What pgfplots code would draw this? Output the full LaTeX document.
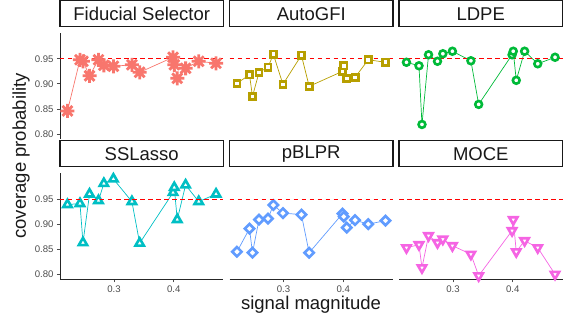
\documentclass[border=0pt]{standalone}
\usepackage{fontspec}
\setmainfont{Liberation Sans}
\usepackage{pgfplots}
\usepackage{pgfplotstable}
\pgfplotsset{compat=1.18}
\definecolor{cfid}{HTML}{F8766D}
\definecolor{cauto}{HTML}{B79F00}
\definecolor{cldpe}{HTML}{00BA38}
\definecolor{cssl}{HTML}{00BFC4}
\definecolor{cpb}{HTML}{619CFF}
\definecolor{cmoce}{HTML}{F564E3}
\definecolor{cref}{HTML}{FF0000}
\definecolor{ctick}{HTML}{4D4D4D}
\pgfdeclareplotmark{ast8}{%
  \pgfpathmoveto{\pgfqpoint{-\pgfplotmarksize}{0pt}}\pgfpathlineto{\pgfqpoint{\pgfplotmarksize}{0pt}}%
  \pgfpathmoveto{\pgfqpoint{0pt}{-\pgfplotmarksize}}\pgfpathlineto{\pgfqpoint{0pt}{\pgfplotmarksize}}%
  \pgfpathmoveto{\pgfqpoint{-0.7071\pgfplotmarksize}{-0.7071\pgfplotmarksize}}\pgfpathlineto{\pgfqpoint{0.7071\pgfplotmarksize}{0.7071\pgfplotmarksize}}%
  \pgfpathmoveto{\pgfqpoint{-0.7071\pgfplotmarksize}{0.7071\pgfplotmarksize}}\pgfpathlineto{\pgfqpoint{0.7071\pgfplotmarksize}{-0.7071\pgfplotmarksize}}%
  \pgfusepathqstroke}

\pgfplotstableread{
x     fid   auto  ldpe  ssl   pb    moce
0.222 0.846 0.901 0.943 0.939 0.845 0.853
0.243 0.948 0.918 0.936 0.941 0.891 0.859
0.248 0.945 0.875 0.819 0.863 0.843 0.813
0.259 0.916 0.923 0.958 0.960 0.909 0.877
0.274 0.948 0.933 0.945 0.947 0.911 0.863
0.283 0.937 0.959 0.960 0.981 0.938 0.870
0.299 0.935 0.899 0.965 0.990 0.922 0.857
0.330 0.938 0.957 0.946 0.945 0.919 0.840
0.343 0.923 0.895 0.859 0.862 0.843 0.797
0.399 0.953 0.925 0.958 0.963 0.921 0.887
0.401 0.938 0.936 0.965 0.973 0.915 0.909
0.406 0.911 0.911 0.907 0.909 0.893 0.845
0.420 0.931 0.913 0.965 0.978 0.908 0.867
0.442 0.945 0.948 0.940 0.945 0.900 0.853
0.471 0.941 0.943 0.953 0.960 0.907 0.800
}\datatable

\pgfplotstableread{
x      y
0.2095 0.95
0.4835 0.95
}\reftable

\pgfplotsset{
  panel/.style={
    scale only axis, width=163.5pt, height=105.8pt,
    anchor=south west,
    xmin=0.2095, xmax=0.4835, ymin=0.790, ymax=1.001,
    clip=false,
    axis line style={line width=0.8pt, black!85},
    tick align=outside, major tick length=3pt,
    tick style={line width=0.8pt, black!70},
    title style={at={(0.5,1)}, anchor=south, draw=black!90, line width=1.1pt,
      fill=white, minimum width=163.5pt, minimum height=26pt, inner sep=0pt,
      font=\fontsize{18.5}{20}\selectfont, text=black!90},
    ticklabel style={font=\fontsize{9.6}{11}\selectfont\color{ctick}},
    /pgf/number format/assume math mode=true,
  },
  leftcol/.style={axis y line*=left, ytick={0.80,0.85,0.90,0.95},
    yticklabel style={/pgf/number format/fixed, /pgf/number format/fixed zerofill, /pgf/number format/precision=2}},
  notleft/.style={axis y line=none, ytick=\empty},
  bottomrow/.style={axis x line*=bottom, xtick={0.3,0.4},
    xticklabel style={/pgf/number format/fixed, /pgf/number format/fixed zerofill, /pgf/number format/precision=1}},
  toprow/.style={axis x line=none, xtick=\empty},
  overlay panel/.style={panel, axis x line=none, axis y line=none, xtick=\empty, ytick=\empty},
  refline/.style={cref, line width=1pt, dash pattern=on 4.5pt off 3.5pt, mark=none, forget plot},
}

\begin{document}
\begin{tikzpicture}
\path[use as bounding box] (0,0) rectangle (566pt,320pt);

% Row 1
\begin{axis}[panel, leftcol, toprow, at={(60pt,181pt)}, title={Fiducial Selector}]
\addplot[cfid, line width=0.7pt, mark=ast8, mark size=7pt, mark options={line width=2.8pt}] table[x=x,y=fid]{\datatable};
\addplot[refline] table[x=x,y=y]{\reftable};
\end{axis}
\begin{axis}[panel, notleft, toprow, at={(229.5pt,181pt)}, title={AutoGFI}]
\addplot[cauto, line width=0.7pt, mark=square*, mark size=3.1pt, mark options={line width=2.6pt, fill=white}] table[x=x,y=auto]{\datatable};
\addplot[refline] table[x=x,y=y]{\reftable};
\end{axis}
\begin{axis}[panel, notleft, toprow, at={(399pt,181pt)}, title={LDPE}]
\addplot[cldpe, line width=0.7pt, mark=*, mark size=3.4pt, mark options={line width=2.6pt, fill=white}] table[x=x,y=ldpe]{\datatable};
\addplot[refline] table[x=x,y=y]{\reftable};
\end{axis}

% Row 2
\begin{axis}[panel, leftcol, bottomrow, at={(60pt,40.7pt)}, title={SSLasso}]
\addplot[cssl, line width=0.7pt, mark=triangle*, mark size=4.8pt, mark options={line width=2.6pt, fill=white}] table[x=x,y=ssl]{\datatable};
\end{axis}
\begin{axis}[overlay panel, at={(60pt,40.7pt)}]
\addplot[refline] table[x=x,y=y]{\reftable};
\end{axis}
\begin{axis}[panel, notleft, bottomrow, at={(229.5pt,40.7pt)}, title={pBLPR}]
\addplot[cpb, line width=0.7pt, mark=square*, mark size=3.3pt, mark options={line width=2.6pt, fill=white, rotate=45}] table[x=x,y=pb]{\datatable};
\end{axis}
\begin{axis}[overlay panel, at={(229.5pt,40.7pt)}]
\addplot[refline] table[x=x,y=y]{\reftable};
\end{axis}
\begin{axis}[panel, notleft, bottomrow, at={(399pt,40.7pt)}, title={MOCE}]
\addplot[cmoce, line width=0.7pt, mark=triangle*, mark size=4.8pt, mark options={line width=2.6pt, fill=white, rotate=180}] table[x=x,y=moce]{\datatable};
\end{axis}
\begin{axis}[overlay panel, at={(399pt,40.7pt)}]
\addplot[refline] table[x=x,y=y]{\reftable};
\end{axis}

\node[rotate=90, font=\fontsize{18.5}{20}\selectfont, text=black!90] at (21pt,164pt) {coverage probability};
\node[anchor=base, font=\fontsize{18.5}{20}\selectfont, text=black!90] at (311pt,10pt) {signal magnitude};
\end{tikzpicture}
\end{document}
